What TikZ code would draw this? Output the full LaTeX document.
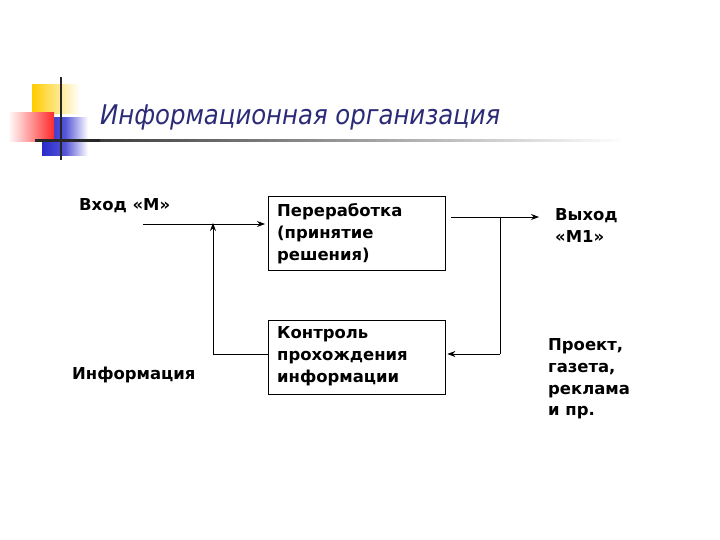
\documentclass[tikz,border=0pt]{standalone}
\usepackage{fontspec}
\setmainfont{DejaVu Sans}
\newfontfamily\titlefont{DejaVu Sans Condensed}
\usetikzlibrary{arrows.meta}
\definecolor{navy}{HTML}{2B2B78}
\definecolor{ayellow}{HTML}{FFCC00}
\definecolor{ared}{HTML}{FF2A2A}
\definecolor{ablue}{HTML}{2A2ACC}
\tikzset{
  lbl/.style={font=\bfseries\fontsize{16.5}{22}\selectfont, align=left, inner sep=0pt, anchor=north west},
  procbox/.style={draw, line width=0.8pt, minimum width=177bp, minimum height=74bp, inner sep=0pt},
  conn/.style={line width=0.8pt},
  arr/.style={conn, -{Stealth[length=8pt,width=6pt]}},
}
\begin{document}
\begin{tikzpicture}[x=1bp,y=-1bp]
\useasboundingbox (0,0) rectangle (720,540);
\fill[white] (0,0) rectangle (720,540);
% decoration
\shade[left color=ayellow, right color=white] (32,85) rectangle (80,114);
\shade[left color=ablue, right color=white, middle color=ablue!80] (42,118) rectangle (88,156);
\shade[left color=white, right color=ared] (8,113) rectangle (54,142);
\shade[left color=black!85, right color=white] (35,139.5) rectangle (625,142);
\fill[black!85] (35,139.5) rectangle (100,142);
\draw[line width=2pt, black!85] (61,77) -- (61,160);
% title
\node[font=\titlefont\itshape\fontsize{27.2}{30}\selectfont, text=navy, anchor=base west, inner sep=0pt] (title) at (100,125) {Информационная организация};
% boxes
\node[procbox] (b1) at (356.5,233) {};
\node[procbox] (b2) at (356.5,357) {};
\node[lbl] (t1) at (277,203) {Переработка\\(принятие\\решения)};
\node[lbl] (t2) at (277,326) {Контроль\\прохождения\\информации};
\node[lbl] (vin) at (79,198) {Вход «М»};
\node[lbl] (info) at (72,367) {Информация};
\node[lbl] (vout) at (555,208) {Выход\\«М1»};
\node[lbl] (proj) at (548,338) {Проект,\\газета,\\реклама\\и пр.};
% connectors
\coordinate (inS) at (143,224);
\coordinate (inE) at (265,224);
\coordinate (up) at (213,354);
\coordinate (upE) at (213,223);
\coordinate (outS) at (451,217);
\coordinate (outE) at (539,217);
\coordinate (jn) at (500,217);
\coordinate (jd) at (500,354);
\draw[arr] (inS) -- (inE);
\draw[conn] (b2.west |- up) -- (up);
\draw[arr] (up) -- (upE);
\draw[arr] (outS) -- (outE);
\draw[conn] (jn) -- (jd);
\draw[arr] (jd) -- ([xshift=2bp]b2.east |- jd);
\end{tikzpicture}
\end{document}
